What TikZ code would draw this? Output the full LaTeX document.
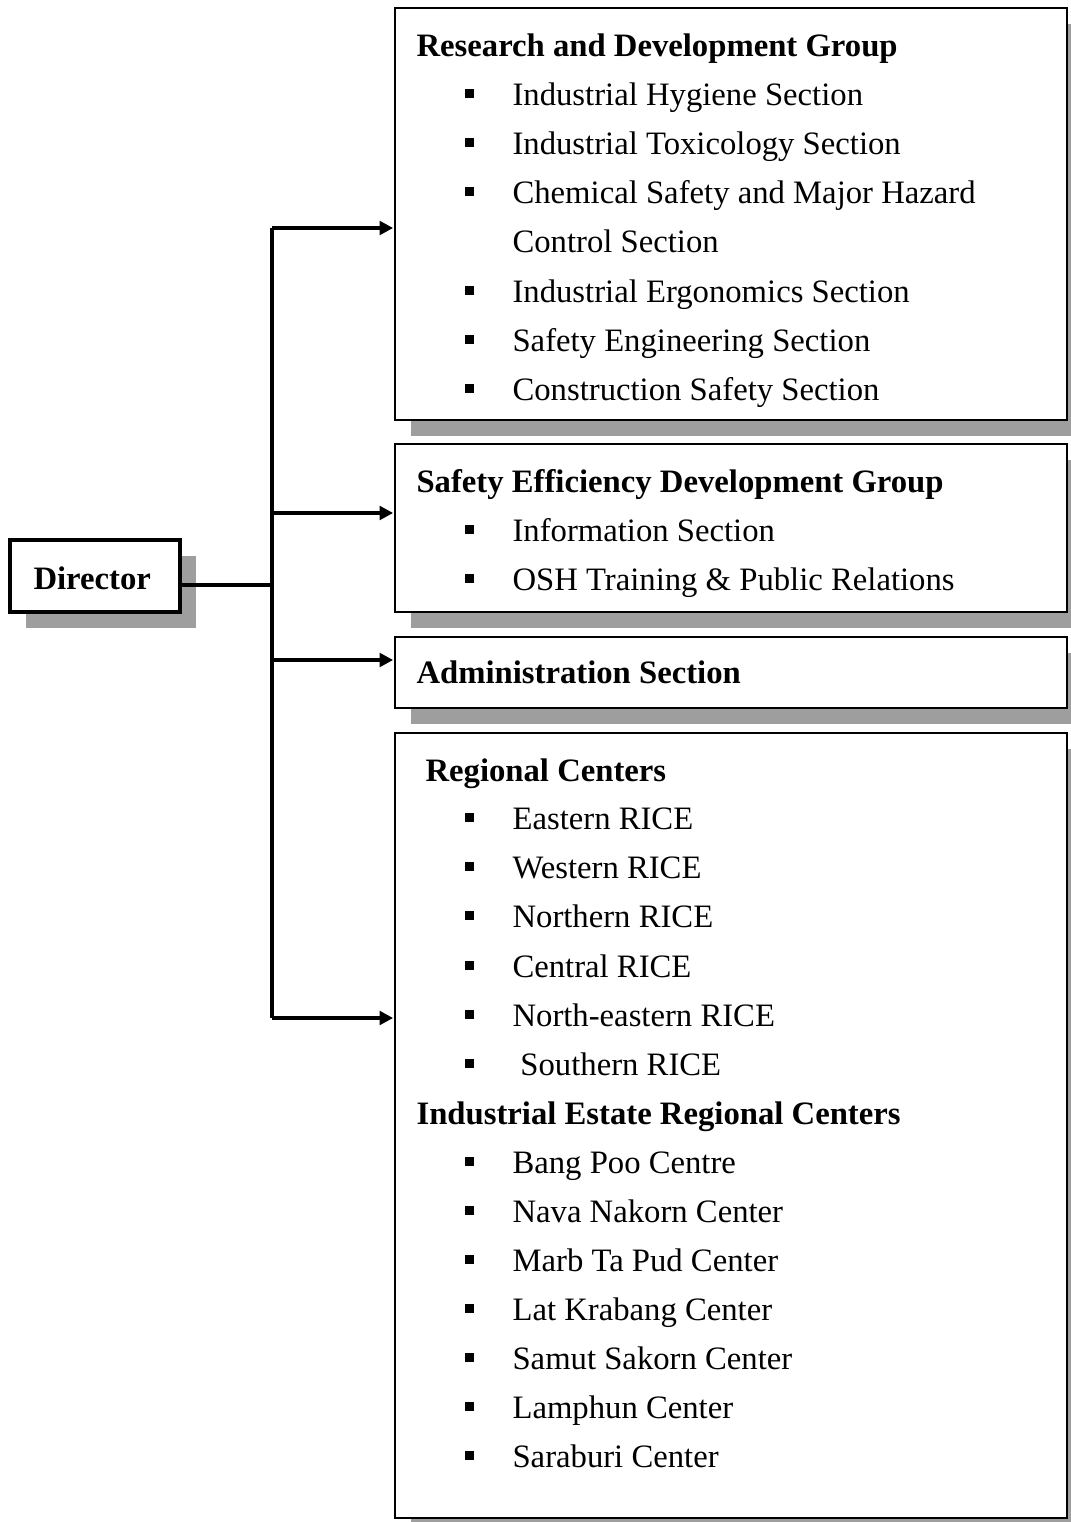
\documentclass[tikz,border=0pt]{standalone}
\usepackage{fontspec}
\setmainfont{Liberation Serif}
\usetikzlibrary{arrows.meta,fit,shadows}

\begin{document}
\begin{tikzpicture}[
    x=0.367pt, y=-0.367pt,
    font=\fontsize{12}{14}\selectfont,
    unit/.style={draw, line width=0.75pt, fill=white, inner sep=0pt,
                 drop shadow={shadow xshift=5.9pt, shadow yshift=-5.9pt,
                              fill=black!38, opacity=1}},
    head/.style={draw, line width=1.4pt, fill=white, inner sep=0pt,
                 drop shadow={shadow xshift=5.9pt, shadow yshift=-5.9pt,
                              fill=black!38, opacity=1}},
    txt/.style={anchor=base west, inner sep=0pt, yshift=-0.6pt},
    ttl/.style={txt, font=\fontsize{12}{14}\selectfont\bfseries},
    conn/.style={line width=1.3pt},
    arr/.style={conn, -{Triangle[length=5pt, width=5pt]}, shorten >=0.3pt},
]
\useasboundingbox (0,0) rectangle (1070,1522);

% boxes
\node[head, fit={(10,540) (180,612)}] (dir) {};
\node[unit, fit={(395,8) (1067,420)}] (rnd) {};
\node[unit, fit={(395,444) (1067,612)}] (sed) {};
\node[unit, fit={(395,637) (1067,708)}] (adm) {};
\node[unit, fit={(395,733) (1067,1518)}] (reg) {};

% titles
\node[ttl] (dirT) at (33,588) {Director};
\node[ttl] (rndT) at (416,55) {Research and Development Group};
\node[ttl] (sedT) at (416,491) {Safety Efficiency Development Group};
\node[ttl] (admT) at (416,682) {Administration Section};
\node[ttl] (regT) at (425,780) {Regional Centers};
\node[ttl] (iecT) at (416,1123) {Industrial Estate Regional Centers};

% sections
\foreach \y/\t in {104/Industrial Hygiene Section,
                   153/Industrial Toxicology Section,
                   202/Chemical Safety and Major Hazard,
                   301/Industrial Ergonomics Section,
                   350/Safety Engineering Section,
                   399/Construction Safety Section,
                   540/Information Section,
                   589/OSH Training \& Public Relations,
                   828/Eastern RICE,
                   877/Western RICE,
                   926/Northern RICE,
                   976/Central RICE,
                   1025/North-eastern RICE,
                   1074/\hspace{2.9pt}Southern RICE,
                   1172/Bang Poo Centre,
                   1221/Nava Nakorn Center,
                   1270/Marb Ta Pud Center,
                   1319/Lat Krabang Center,
                   1368/Samut Sakorn Center,
                   1417/Lamphun Center,
                   1466/Saraburi Center}{
  \fill (465,{\y-15}) rectangle (474,{\y-6});
  \node[txt] (item\y) at (512,\y) {\t};
}
\node[txt] (item251) at (512,251) {Control Section};

% connectors
\coordinate (j1) at (272,228);
\coordinate (j2) at (272,513);
\coordinate (j3) at (272,660);
\coordinate (j4) at (272,1018);
\coordinate (trunk) at (272,585);

\draw[conn] (dir.east |- trunk) -- (trunk);
\draw[conn] (j1) -- (j4);
\draw[arr] (j1) -- (j1 -| rnd.west);
\draw[arr] (j2) -- (j2 -| sed.west);
\draw[arr] (j3) -- (j3 -| adm.west);
\draw[arr] (j4) -- (j4 -| reg.west);
\end{tikzpicture}
\end{document}
